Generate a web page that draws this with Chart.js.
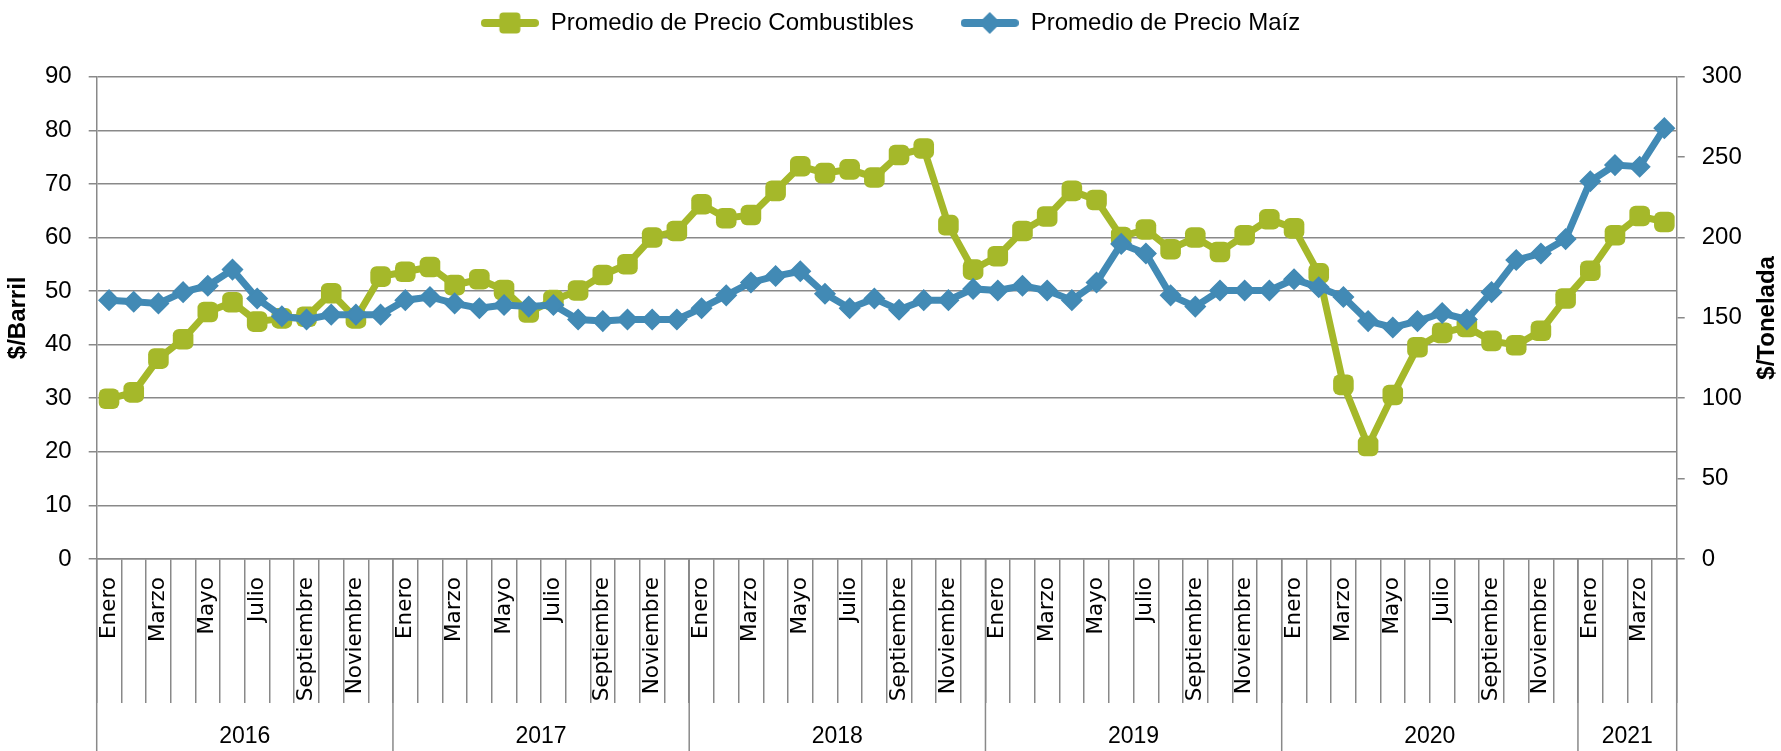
<!DOCTYPE html>
<html>
<head>
<meta charset="utf-8">
<script src="https://cdn.jsdelivr.net/npm/chart.js@4"></script>
<style>
html, body { margin: 0; background: #fff; }
#wrap { width: 1781px; height: 751px; }
</style>
</head>
<body>
<div id="wrap"><canvas id="myChart"></canvas></div>
<script>
// categorias
var meses = ['Enero', 'Febrero', 'Marzo', 'Abril', 'Mayo', 'Junio', 'Julio', 'Agosto', 'Septiembre', 'Octubre', 'Noviembre', 'Diciembre'];
var anios = ['2016', '2017', '2018', '2019', '2020', '2021'];
var mesesPorAnio = [12, 12, 12, 12, 12, 4];

// $/Barril (eje izquierdo)
var combustibles = [
    29.9, 31.1, 37.4, 41.0, 46.1, 47.9, 44.3, 44.9, 45.2, 49.6, 44.9, 52.7,
    53.6, 54.5, 51.1, 52.2, 50.2, 46.0, 48.3, 50.1, 53.0, 55.0, 60.0, 61.2,
    66.2, 63.6, 64.2, 68.7, 73.3, 72.0, 72.7, 71.2, 75.4, 76.6, 62.3, 54.0,
    56.5, 61.2, 63.9, 68.7, 67.0, 60.1, 61.5, 57.8, 60.0, 57.3, 60.4, 63.4,
    61.7, 53.3, 32.5, 21.1, 30.6, 39.5, 42.2, 43.3, 40.7, 39.9, 42.6, 48.6,
    53.8, 60.4, 64.0, 62.9
];
// $/Tonelada (eje derecho)
var maiz = [
    161, 160, 159, 166, 170, 180, 162, 151, 149, 152, 152, 152,
    161, 163, 159, 156, 158, 157, 158, 149, 148, 149, 149, 149,
    156, 164, 172, 176, 179, 165, 156, 162, 155, 161, 161, 168,
    167, 170, 167, 161, 172, 196, 190, 164, 157, 167, 167, 167,
    174, 169, 163, 148, 144, 148, 153, 149, 166, 186, 190, 199,
    235, 245, 244, 268
];

var labels = [];
anios.forEach(function(a, k) {
    for (var m = 0; m < mesesPorAnio[k]; m++) labels.push(meses[m]);
});

var verde = '#a5b82a';
var azul = '#428ab5';
var gris = '#898989';
var fuente = '"Liberation Sans", Arial, sans-serif';
Chart.defaults.font.family = fuente;
Chart.defaults.color = '#000';

function marcador(color, forma) {
    var c = document.createElement('canvas');
    c.width = 58; c.height = 24;
    var g = c.getContext('2d');
    g.strokeStyle = color; g.fillStyle = color;
    g.lineWidth = 8; g.lineCap = 'round';
    g.beginPath(); g.moveTo(4, 12); g.lineTo(54, 12); g.stroke();
    g.beginPath();
    if (forma === 'cuadro') {
        g.roundRect(18.5, 1.5, 21, 21, 4);
    } else {
        g.moveTo(29, 1); g.lineTo(40, 12); g.lineTo(29, 23); g.lineTo(18, 12); g.closePath();
    }
    g.fill();
    return c;
}
var marcadores = [marcador(verde, 'cuadro'), marcador(azul, 'rombo')];

var extras = {
    id: 'extras',
    beforeLayout: function(chart) {
        var lg = chart.legend;
        if (lg && !lg._ajustado) {
            var fit = lg.fit;
            lg.fit = function() { fit.call(this); this.height = 112.7; };
            lg._ajustado = true;
        }
    },
    afterDraw: function(chart) {
        var ctx = chart.ctx, x = chart.scales.x, area = chart.chartArea;
        var paso = x.getPixelForValue(1) - x.getPixelForValue(0);
        ctx.save();
        ctx.strokeStyle = gris;
        ctx.lineWidth = 1.5;
        ctx.fillStyle = '#000';
        ctx.font = '23px ' + fuente;
        ctx.textAlign = 'center';
        ctx.textBaseline = 'middle';
        var ini = 0;
        var x0 = x.getPixelForValue(0) - paso / 2;
        ctx.beginPath(); ctx.moveTo(x0, area.bottom); ctx.lineTo(x0, chart.height); ctx.stroke();
        anios.forEach(function(a, k) {
            var fin = ini + mesesPorAnio[k];
            var xa = x.getPixelForValue(ini) - paso / 2;
            var xb = x.getPixelForValue(fin - 1) + paso / 2;
            ctx.beginPath(); ctx.moveTo(xb, area.bottom); ctx.lineTo(xb, chart.height); ctx.stroke();
            ctx.fillText(a, (xa + xb) / 2, 737);
            ini = fin;
        });
        ctx.font = 'bold 24px ' + fuente;
        var mid = (area.top + area.bottom) / 2;
        ctx.translate(18, mid); ctx.rotate(-Math.PI / 2);
        ctx.fillText('$/Barril', 0, 0);
        ctx.rotate(Math.PI / 2); ctx.translate(-18, -mid);
        ctx.translate(1767, mid); ctx.rotate(-Math.PI / 2);
        ctx.fillText('$/Tonelada', 0, 0);
        ctx.restore();
    }
};

var ctx = document.getElementById('myChart').getContext('2d');
var myChart = new Chart(ctx, {
    type: 'line',
    data: {
        labels: labels,
        datasets: [{
            label: 'Promedio de Precio Combustibles',
            data: combustibles,
            yAxisID: 'y',
            order: 1,
            borderColor: verde,
            backgroundColor: verde,
            borderWidth: 7,
            pointStyle: 'rectRounded',
            pointRadius: 12,
            pointBorderWidth: 0,
            tension: 0
        },
        {
            label: 'Promedio de Precio Maíz',
            data: maiz,
            yAxisID: 'y1',
            order: 0,
            borderColor: azul,
            backgroundColor: azul,
            borderWidth: 7,
            pointStyle: 'rectRot',
            pointRadius: 10,
            pointBorderWidth: 1.5,
            tension: 0
        }]
    },
    options: {
        responsive: true,
        maintainAspectRatio: false,
        animation: false,
        layout: { padding: { top: -36, left: 0, right: 0, bottom: 0 } },
        plugins: {
            tooltip: { enabled: false },
            legend: {
                position: 'top',
                labels: {
                    usePointStyle: true,
                    pointStyleWidth: 58,
                    padding: 47,
                    color: '#000',
                    font: { size: 24 },
                    sort: function(a, b) { return a.datasetIndex - b.datasetIndex; },
                    generateLabels: function(chart) {
                        var items = Chart.defaults.plugins.legend.labels.generateLabels(chart);
                        items.forEach(function(it) { it.pointStyle = marcadores[it.datasetIndex]; });
                        return items;
                    }
                }
            }
        },
        scales: {
            x: {
                offset: true,
                afterFit: function(s) { s.height = 192; },
                grid: { drawOnChartArea: false, drawTicks: true, tickLength: 144, offset: true, color: gris, lineWidth: 1.5 },
                border: { color: gris, width: 1.5 },
                ticks: {
                    autoSkip: false,
                    minRotation: 90,
                    maxRotation: 90,
                    padding: -126,
                    font: { family: '"DejaVu Sans", Verdana, sans-serif', size: 21.5 },
                    callback: function(v, i) { return i % 2 === 0 ? this.getLabelForValue(v) : ''; }
                }
            },
            y: {
                position: 'left',
                min: 0,
                max: 90,
                afterFit: function(s) { s.width = 96.7; },
                grid: { color: gris, lineWidth: 1.5, tickLength: 8 },
                border: { color: gris, width: 1.5 },
                ticks: { stepSize: 10, padding: 17, font: { size: 24 } }
            },
            y1: {
                position: 'right',
                min: 0,
                max: 300,
                afterFit: function(s) { s.width = 104.3; },
                grid: { drawOnChartArea: false, color: gris, lineWidth: 1.5, tickLength: 8 },
                border: { color: gris, width: 1.5 },
                ticks: { stepSize: 50, padding: 17, font: { size: 24 } }
            }
        }
    },
    plugins: [extras]
});
</script>
</body>
</html>
